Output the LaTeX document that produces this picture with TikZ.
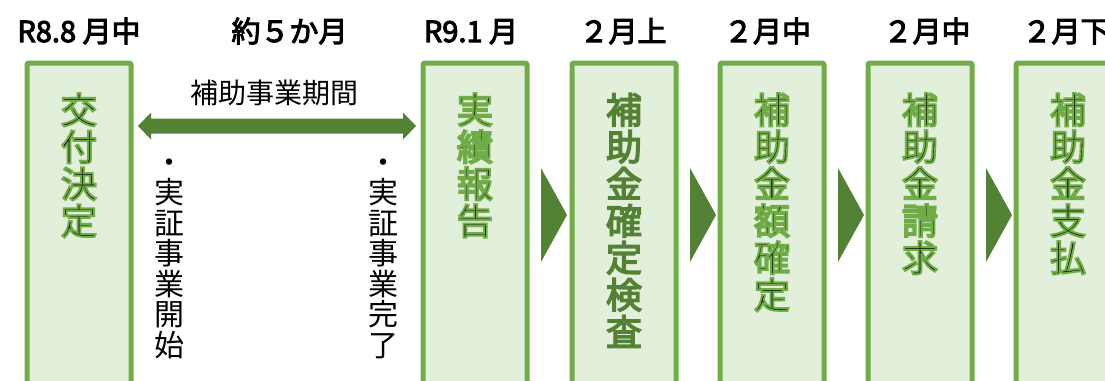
\documentclass[tikz,border=0pt]{standalone}
\usepackage{fontspec}
\setmainfont{Noto Sans CJK JP}
\newfontfamily\glowfont{Noto Sans CJK JP}[FakeBold=5.5]
\newfontfamily\midfont{Noto Sans CJK JP}[FakeBold=4]
\newfontfamily\datefont{Noto Sans CJK JP}[FakeBold=3.5]
\usetikzlibrary{calc}
\definecolor{boxfill}{HTML}{E2EFDA}
\definecolor{boxline}{HTML}{70AD47}
\definecolor{darkg}{HTML}{548235}
\newcommand{\sg}{\special{pdf:code 0.439 0.678 0.278 RG}}
\begin{document}
\begin{tikzpicture}[x=1pt,y=-1pt,
  stepbox/.style={draw=boxline, fill=boxfill, line width=5pt, rounded corners=2pt,
    minimum width=104pt, minimum height=340pt, anchor=north west, inner sep=0pt},
  datestyle/.style={font=\datefont\fontsize{29}{30}\selectfont, anchor=base, inner sep=0pt, text=black},
  glowtext/.style={font=\glowfont\fontsize{36}{37}\selectfont, align=center, anchor=north, inner sep=0pt, text=black},
  solidtext/.style={font=\midfont\fontsize{36}{37}\selectfont, align=center, anchor=north, inner sep=0pt, text=darkg},
  vblack/.style={font=\fontsize{30}{30.5}\selectfont, align=center, anchor=north, inner sep=0pt, text=black},
  chev/.style={fill=darkg, draw=none},
  bar/.style={fill=darkg, draw=none},
]
\useasboundingbox (0,0) rectangle (1105,380);
% boxes
\node[stepbox] (b1) at (24.5,60.5) {};
\node[stepbox] (b2) at (420.5,60.5) {};
\node[stepbox] (b3) at (569.5,60.5) {};
\node[stepbox] (b4) at (717.5,60.5) {};
\node[stepbox] (b5) at (865.5,60.5) {};
\node[stepbox] (b6) at (1013.5,60.5) {};
% date labels
\node[datestyle] (d1) at (79,42) {R8.8 月中};
\node[datestyle] (d0) at (289.5,42) {約５か月};
\node[datestyle] (d2) at (471,42) {R9.1 月};
\node[datestyle] (d3) at (623,42) {２月上};
\node[datestyle] (d4) at (767.5,42) {２月中};
\node[datestyle] (d5) at (927,42) {２月中};
\node[datestyle] (d6) at (1066,42) {２月下};
% chevrons
\foreach \a/\b in {b2/b3,b3/b4,b4/b5,b5/b6}{
  \fill[chev] ($(\a.north east)+(11.5,107.5)$) -- ($(\a.north east)+(37.5,154.5)$)
    -- ($(\a.north east)+(11.5,201.5)$) -- cycle;
}
% double arrow
\coordinate (aL) at ($(b1.north east)+(4.5,65.5)$);
\coordinate (aR) at ($(b2.north west)+(-4.5,65.5)$);
\fill[bar] (aL) -- ++(13,-13.5) -- ++(0,6) -- ($(aR)+(-13,-7.5)$) -- ++(0,-6) -- (aR)
  -- ++(-13,13.5) -- ++(0,-6) -- ($(aL)+(13,7.5)$) -- ++(0,6) -- cycle;
\node[font=\fontsize{28}{30}\selectfont, inner sep=0pt, text=black] (period) at (274.5,93) {補助事業期間};
% vertical black texts
\node[vblack] (s1) at (169,148) {\vphantom{実}・\\実\\証\\事\\業\\開\\始};
\node[vblack] (s2) at (383,148) {\vphantom{実}・\\実\\証\\事\\業\\完\\了};
% green texts
\node[glowtext] (t1) at ($(b1.north)+(0,32.5)$) {\sg 交\\\sg 付\\\sg 決\\\sg 定};
\node[glowtext] (t2) at ($(b2.north)+(0,32.5)$) {\sg 実\\\sg 績\\\sg 報\\\sg 告};
\node[solidtext] (t3) at ($(b3.north)+(0,32.5)$) {補\\助\\金\\確\\定\\検\\査};
\node[glowtext] (t4) at ($(b4.north)+(0,32.5)$) {\sg 補\\\sg 助\\\sg 金\\\sg 額\\\sg 確\\\sg 定};
\node[glowtext] (t5) at ($(b5.north)+(0,32.5)$) {\sg 補\\\sg 助\\\sg 金\\\sg 請\\\sg 求};
\node[glowtext] (t6) at ($(b6.north)+(0,32.5)$) {\sg 補\\\sg 助\\\sg 金\\\sg 支\\\sg 払};
\end{tikzpicture}
\end{document}
